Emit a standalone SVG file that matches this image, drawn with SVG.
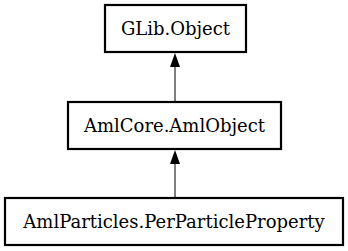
<svg xmlns="http://www.w3.org/2000/svg" width="348" height="251" viewBox="0 0 348 251">
  <style>
    .box { fill: #ffffff; stroke: #000000; stroke-width: 2.2; }
    .label { font-family: "DejaVu Serif", "Liberation Serif", serif; font-size: 18px; fill: #000000; text-anchor: middle; }
    .edge { stroke: #000000; stroke-width: 1; fill: none; }
    .head { fill: #000000; }
  </style>
  <rect width="348" height="251" fill="#ffffff"/>
  <g id="edges">
    <line class="edge" x1="175" y1="101" x2="175" y2="67"/>
    <polygon class="head" points="170,67 180,67 175,53"/>
    <line class="edge" x1="175" y1="197" x2="175" y2="164"/>
    <polygon class="head" points="170,164 180,164 175,150"/>
  </g>
  <g id="glib-object">
    <rect class="box" x="105" y="5" width="141" height="47"/>
    <text class="label" x="175.5" y="35">GLib.Object</text>
  </g>
  <g id="amlcore-amlobject">
    <rect class="box" x="68" y="102" width="213" height="47"/>
    <text class="label" x="174.5" y="132">AmlCore.AmlObject</text>
  </g>
  <g id="amlparticles-perparticleproperty">
    <rect class="box" x="5" y="198" width="338" height="47"/>
    <text class="label" x="174" y="228">AmlParticles.PerParticleProperty</text>
  </g>
</svg>
